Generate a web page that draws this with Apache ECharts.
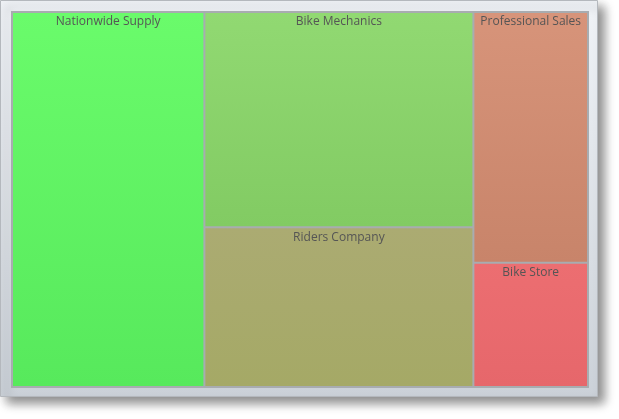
<!DOCTYPE html>
<html>
<head>
<meta charset="utf-8">
<script src="https://cdn.jsdelivr.net/npm/echarts@6/dist/echarts.min.js"></script>
<style>
  html, body { margin: 0; padding: 0; background: #fff; }
  #chart { width: 619px; height: 419px; }
</style>
</head>
<body>
<div id="chart"></div>
<script>
// customers and their share of sales
const names = ['Nationwide Supply', 'Bike Mechanics', 'Riders Company', 'Professional Sales', 'Bike Store']
const values = [334, 268, 199, 133, 66]
const topColors = ['#6afb6b', '#91d972', '#abab72', '#d7947a', '#ec6e71']
const bottomColors = ['#57e95c', '#82cb63', '#a5a966', '#c8846a', '#e6676b']

const chart = echarts.init(document.getElementById('chart'))

const grad = (a, b) => new echarts.graphic.LinearGradient(0, 0, 0, 1, [
  { offset: 0, color: a },
  { offset: 1, color: b }
])

chart.setOption({
  animation: false,
  graphic: [
    {
      type: 'rect',
      shape: { x: 0.5, y: 0.5, width: 597, height: 396 },
      style: {
        fill: grad('#f0f3f7', '#cbd1d8'),
        stroke: '#b4b8bd',
        lineWidth: 1,
        shadowBlur: 10,
        shadowOffsetX: 6,
        shadowOffsetY: 6,
        shadowColor: 'rgba(0,0,0,0.45)'
      },
      z: -10
    }
  ],
  series: [
    {
      type: 'treemap',
      left: 11,
      top: 11,
      width: 578,
      height: 377,
      roam: false,
      nodeClick: false,
      breadcrumb: { show: false },
      squareRatio: 1,
      label: {
        show: true,
        position: 'insideTop',
        distance: 0,
        offset: [0, -2],
        color: '#555',
        fontSize: 12,
        fontFamily: 'Open Sans'
      },
      itemStyle: {
        borderWidth: 1,
        borderColor: '#a8acb0',
        gapWidth: 0
      },
      data: names.map((n, i) => ({
        name: n,
        value: values[i],
        itemStyle: { color: grad(topColors[i], bottomColors[i]) }
      }))
    }
  ]
})
</script>
</body>
</html>
